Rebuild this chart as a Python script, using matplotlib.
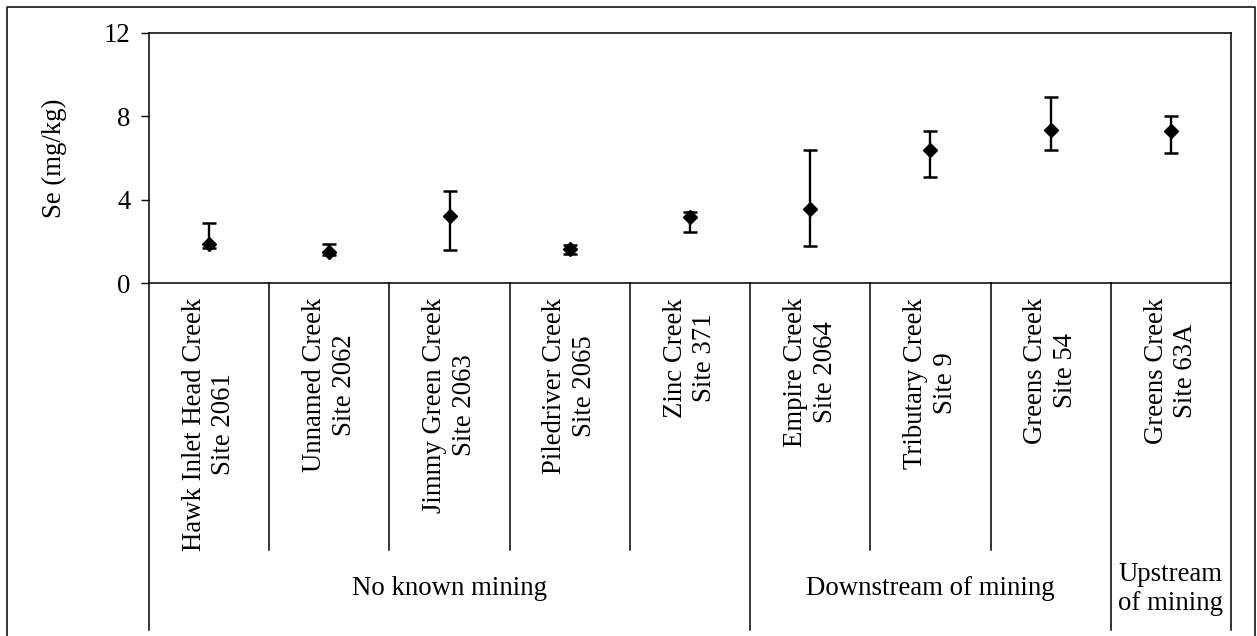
import matplotlib
matplotlib.use("Agg")
import matplotlib.pyplot as plt
from matplotlib.lines import Line2D

# Se in sediment per site: mean with lower/upper ends of the error bar
sites = [
    "Hawk Inlet Head Creek\nSite 2061",
    "Unnamed Creek\nSite 2062",
    "Jimmy Green Creek\nSite 2063",
    "Piledriver Creek\nSite 2065",
    "Zinc Creek\nSite 371",
    "Empire Creek\nSite 2064",
    "Tributary Creek\nSite 9",
    "Greens Creek\nSite 54",
    "Greens Creek\nSite 63A",
]
se_mean = [1.9, 1.5, 3.25, 1.65, 3.2, 3.58, 6.38, 7.35, 7.3]
se_low = [1.7, 1.35, 1.6, 1.42, 2.45, 1.78, 5.1, 6.37, 6.24]
se_high = [2.9, 1.9, 4.44, 1.82, 3.4, 6.38, 7.28, 8.92, 8.02]

groups = ["No known mining", "Downstream of mining", "Upstream\nof mining"]
group_sizes = [5, 3, 1]

y_ticks = [0, 4, 8, 12]

plt.rcParams["font.family"] = ["Liberation Serif", "DejaVu Serif"]
plt.rcParams["font.size"] = 19.3

W, H = 1257, 636
fig = plt.figure(figsize=(W / 100, H / 100), dpi=100)

# main plot box in pixel coords
left, right, top, bottom = 149, 1231, 32.5, 283.5
ax = fig.add_axes([left / W, 1 - bottom / H, (right - left) / W, (bottom - top) / H])

n = len(sites)
x = list(range(n))
yerr = [
    [m - lo for m, lo in zip(se_mean, se_low)],
    [hi - m for m, hi in zip(se_mean, se_high)],
]
ax.errorbar(
    x, se_mean, yerr=yerr, fmt="D", color="black", markersize=7,
    elinewidth=1.7, capsize=5, capthick=1.8, zorder=3,
)

ax.set_xlim(-0.5, n - 0.5)
ax.set_ylim(0, 12)
ax.set_yticks(y_ticks)
ax.set_xticks([])
ax.tick_params(axis="y", direction="out", length=5.5, width=1, pad=8)
ax.set_ylabel("Se (mg/kg)", labelpad=26)
for s in ax.spines.values():
    s.set_linewidth(1.1)
    s.set_color("black")

ax_h = bottom - top


def frac(px):
    # pixel row -> axes fraction
    return (bottom - px) / ax_h


# category dividers and group dividers below the axis
short_end = frac(550)
long_end = frac(630)
bounds = [0]
for g in group_sizes:
    bounds.append(bounds[-1] + g)
for i in range(n + 1):
    xe = i - 0.5
    end = long_end if i in bounds else short_end
    ax.add_line(Line2D([xe, xe], [0, end], transform=ax.get_xaxis_transform(),
                       color="black", lw=1.1, clip_on=False))

# rotated site labels
for i, name in enumerate(sites):
    ax.text(i, frac(298), name, rotation=90, ha="center", va="top",
            multialignment="center", linespacing=1.25,
            transform=ax.get_xaxis_transform())

# group labels
for g, name in enumerate(groups):
    cx = (bounds[g] + bounds[g + 1]) / 2 - 0.5
    ax.text(cx, frac(589), name, ha="center", va="center",
            multialignment="center", linespacing=1.2,
            transform=ax.get_xaxis_transform())

# outer frame (open at the bottom)
fx0, fx1, fy1 = 7 / W, 1255 / W, 1 - 7 / H
fig.add_artist(Line2D([fx0, fx0, fx1, fx1], [0, fy1, fy1, 0],
                      transform=fig.transFigure, color="black", lw=1.1))

fig.savefig("out.png", dpi=100)
